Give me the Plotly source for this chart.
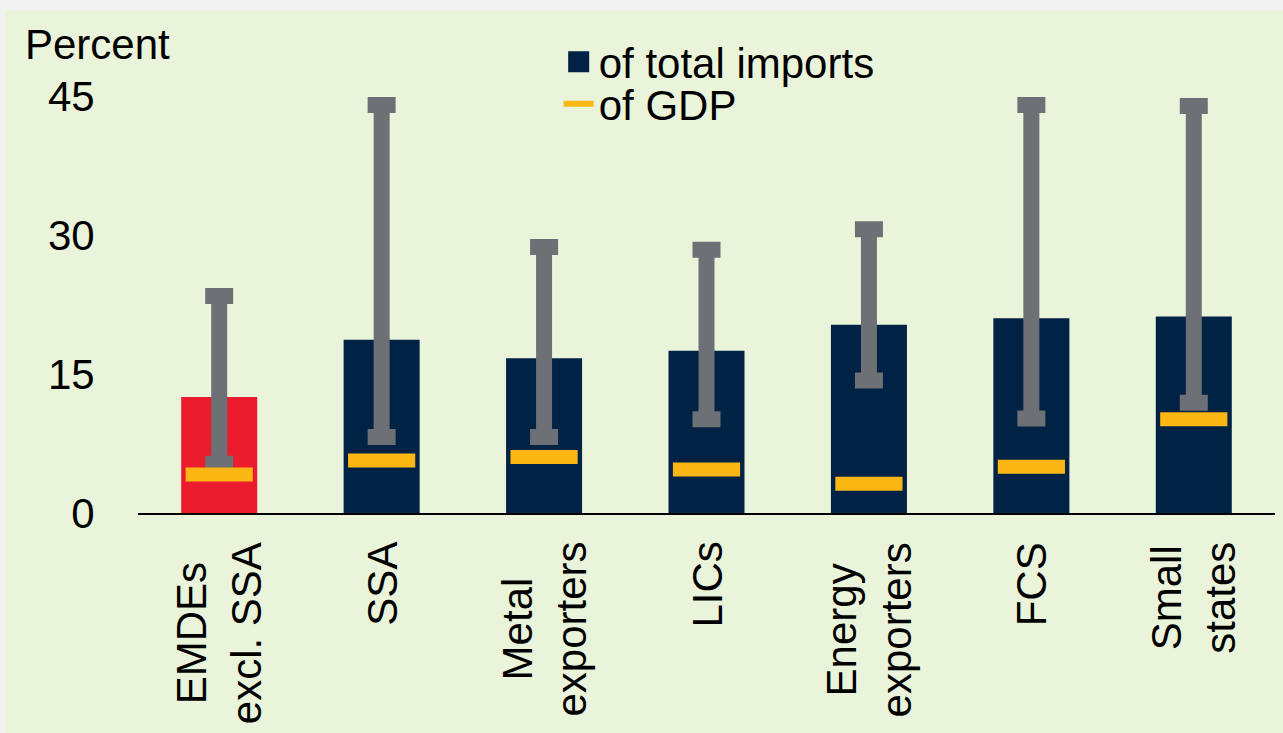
import plotly.graph_objects as go

categories = ["EMDEs<br>excl. SSA", "SSA", "Metal<br>exporters", "LICs",
              "Energy<br>exporters", "FCS", "Small<br>states"]
imports_share = [12.5, 18.7, 16.7, 17.5, 20.3, 21.0, 21.2]   # of total imports (bars)
gdp_share = [4.15, 5.65, 6.05, 4.7, 3.15, 5.0, 10.1]          # of GDP (yellow dash)
range_low = [5.3, 8.2, 8.2, 10.1, 14.3, 10.2, 11.9]           # gray range, lower end
range_high = [23.4, 44.0, 28.7, 28.4, 30.6, 44.0, 43.9]       # gray range, upper end
y_ticks = [0, 15, 30, 45]

NAVY = "#002244"
RED = "#EB1C2D"
GRAY = "#6D7075"
YELLOW = "#FDB714"
GREEN_BG = "#EAF4DA"
FONT = "Liberation Sans, Arial, sans-serif"
FS = 42

bar_colors = [RED] + [NAVY] * (len(categories) - 1)

fig = go.Figure()

fig.add_trace(go.Bar(
    x=categories, y=imports_share, marker=dict(color=bar_colors, line=dict(width=0)),
    width=0.468, showlegend=False, hoverinfo="skip",
))

fig.add_trace(go.Scatter(
    x=categories, y=range_low, mode="markers",
    marker=dict(size=1, color="rgba(0,0,0,0)"),
    error_y=dict(type="data", symmetric=False,
                 array=[h - l for h, l in zip(range_high, range_low)],
                 arrayminus=[0] * len(categories),
                 color=GRAY, thickness=16, width=14),
    showlegend=False, hoverinfo="skip",
))

# line-ew marker length is 1.4 x size -> ~67 px dash
fig.add_trace(go.Scatter(
    x=categories, y=gdp_share, mode="markers",
    marker=dict(symbol="line-ew", size=48, color=YELLOW,
                line=dict(color=YELLOW, width=14)),
    showlegend=False, hoverinfo="skip",
))

# legend proxies
fig.add_trace(go.Scatter(
    x=[categories[0]], y=[None], mode="markers", name="of total imports",
    marker=dict(symbol="square", size=16, color=NAVY, line=dict(color=NAVY, width=5)),
    legend="legend", hoverinfo="skip",
))
fig.add_trace(go.Scatter(
    x=[categories[0]], y=[None], mode="lines", name="of GDP",
    line=dict(color=YELLOW, width=6),
    legend="legend2", hoverinfo="skip",
))

# category labels (centred multi-line, rotated)
for c in categories:
    fig.add_annotation(
        x=c, xref="x", y=0, yref="paper", yanchor="top", xanchor="center",
        yshift=-27, text=c, textangle=-90, align="center", showarrow=False,
        font=dict(family=FONT, size=FS, color="black"),
    )

fig.add_annotation(
    x=-0.101, xref="paper", y=1.0517, yref="paper", xanchor="left", yanchor="middle",
    text="Percent", showarrow=False, font=dict(family=FONT, size=FS, color="black"),
)

fig.add_shape(type="rect", xref="paper", yref="paper", x0=-0.117, x1=1.05,
              y0=-0.7, y1=1.1303, fillcolor=GREEN_BG, line=dict(width=0), layer="below")

legend_common = dict(
    xanchor="left", yanchor="middle", bgcolor="rgba(0,0,0,0)",
    font=dict(family=FONT, size=FS, color="black"), borderwidth=0,
)
fig.update_layout(
    width=1283, height=733,
    margin=dict(l=138, r=8, t=68, b=220, pad=0),
    paper_bgcolor="#F2F2F2", plot_bgcolor="rgba(0,0,0,0)",
    font=dict(family=FONT, size=FS, color="black"),
    legend=dict(x=0.37, y=1.0135, **legend_common),
    legend2=dict(x=0.37, y=0.919, **legend_common),
    xaxis=dict(range=[-0.5, len(categories) - 0.5], autorange=False,
               showline=True, linecolor="black", linewidth=2, showticklabels=False,
               ticks="", showgrid=False, zeroline=False, fixedrange=True),
    yaxis=dict(range=[0, 48], tickvals=y_ticks, ticktext=[str(v) for v in y_ticks],
               showgrid=False, zeroline=False, showline=False, ticks="outside",
               ticklen=34, tickcolor="rgba(0,0,0,0)",
               tickfont=dict(family=FONT, size=FS, color="black"), fixedrange=True),
)

fig.write_html(
    "out.html",
    config={"displayModeBar": False},
    post_script="document.body.style.margin='0';document.body.style.background='#F2F2F2';"
                "document.body.style.overflow='hidden';",
)
